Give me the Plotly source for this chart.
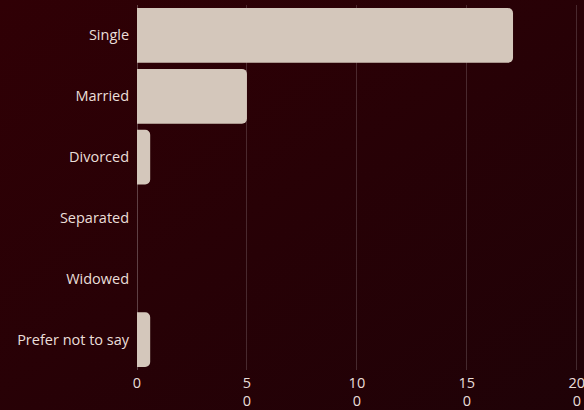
import plotly.graph_objects as go
import urllib.parse

categories = ["Single", "Married", "Divorced", "Separated", "Widowed", "Prefer not to say"]
counts = [171, 50, 6, 0, 0, 6]
tick_vals = [0, 50, 100, 150, 200]
tick_text = ["0", "5<br>0", "10<br>0", "15<br>0", "20<br>0"]

W, H = 584, 410
ml, mr, mt, mb = 137, 5, 5, 40
pw, ph = W - ml - mr, H - mt - mb

svg = (
    f'<svg xmlns="http://www.w3.org/2000/svg" width="{W}" height="{H}" viewBox="0 0 {W} {H}" preserveAspectRatio="none">'
    '<defs><linearGradient id="g" x1="0" y1="0" x2="1" y2="1">'
    '<stop offset="0" stop-color="#300005"/><stop offset="1" stop-color="#1f0207"/>'
    '</linearGradient></defs>'
    f'<rect width="{W}" height="{H}" fill="url(#g)"/></svg>'
)
src = "data:image/svg+xml;charset=utf-8," + urllib.parse.quote(svg)

fig = go.Figure(go.Bar(
    x=counts, y=categories, orientation="h",
    marker=dict(color="#d4c7bb", cornerradius=5, line=dict(width=0)),
))

fig.update_layout(
    width=W, height=H,
    margin=dict(l=ml, r=mr, t=mt, b=mb, autoexpand=False),
    paper_bgcolor="#280206",
    plot_bgcolor="rgba(0,0,0,0)",
    bargap=0.1,
    showlegend=False,
    font=dict(family="Open Sans, sans-serif", size=14.5, color="#eadfd9"),
    images=[dict(
        source=src, xref="paper", yref="paper",
        x=-ml / pw, y=1 + mt / ph, sizex=W / pw, sizey=H / ph,
        xanchor="left", yanchor="top", sizing="stretch", layer="below",
    )],
    xaxis=dict(
        range=[0, 201], tickvals=tick_vals, ticktext=tick_text,
        showgrid=True, gridcolor="rgba(255,255,255,0.16)", gridwidth=1,
        zeroline=True, zerolinecolor="rgba(255,255,255,0.25)", zerolinewidth=1,
        showline=False, ticks="", fixedrange=True, ticklabeloverflow="allow",
        tickfont=dict(size=14.5), automargin=False, ticklabelstandoff=2,
    ),
    yaxis=dict(
        categoryorder="array", categoryarray=categories, autorange="reversed",
        showgrid=False, zeroline=False, showline=False, ticks="outside",
        ticklen=4, tickcolor="rgba(0,0,0,0)", automargin=False,
    ),
)

fig.write_html("out.html")
